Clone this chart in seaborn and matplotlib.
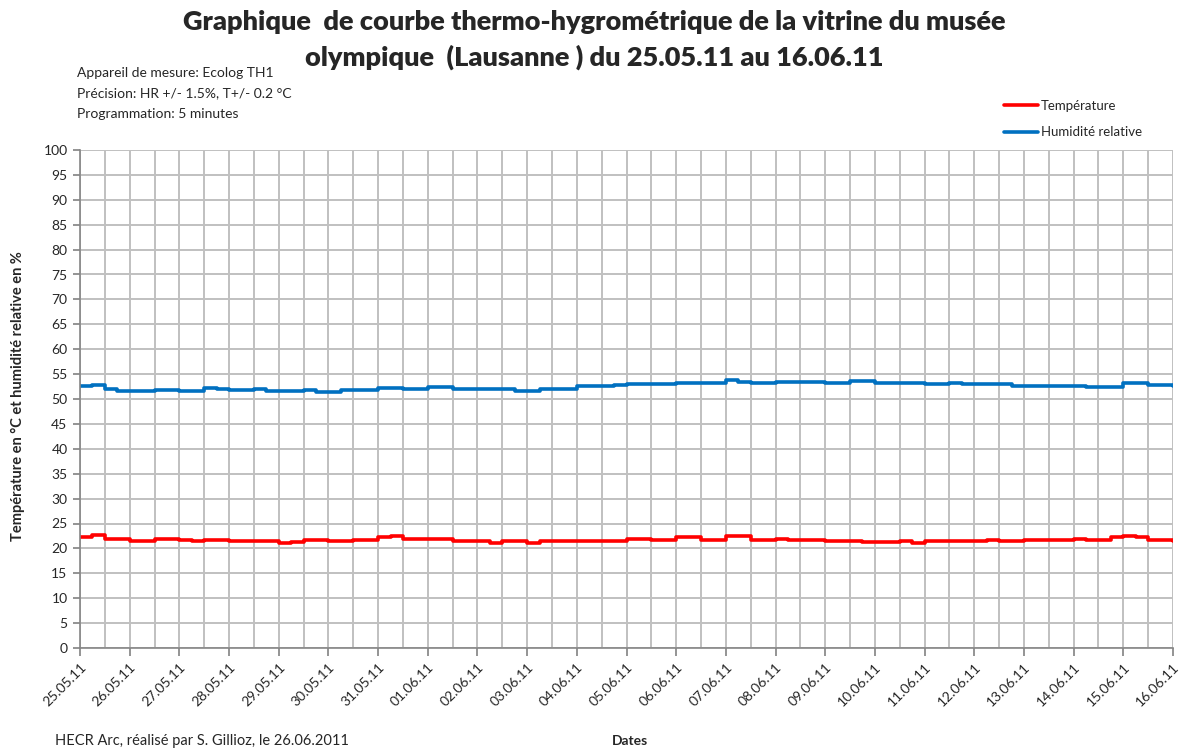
import pandas as pd
import seaborn as sns
import matplotlib.pyplot as plt
import matplotlib.dates as mdates

# Readings every 6 hours
start = "2011-05-25"
n_steps = 89

temperature = [
    22.2, 22.6, 21.9, 21.9, 21.4, 21.4, 21.9, 21.9, 21.6, 21.4, 21.6, 21.6,
    21.4, 21.4, 21.5, 21.5, 21.1, 21.3, 21.6, 21.6, 21.4, 21.4, 21.6, 21.6,
    22.2, 22.4, 21.9, 21.9, 21.9, 21.9, 21.4, 21.4, 21.4, 21.1, 21.4, 21.4,
    21.1, 21.4, 21.4, 21.4, 21.4, 21.4, 21.4, 21.4, 21.9, 21.9, 21.6, 21.6,
    22.2, 22.2, 21.6, 21.6, 22.4, 22.4, 21.6, 21.6, 21.9, 21.6, 21.6, 21.6,
    21.4, 21.4, 21.4, 21.2, 21.2, 21.2, 21.4, 21.1, 21.4, 21.4, 21.4, 21.4,
    21.4, 21.6, 21.4, 21.4, 21.6, 21.6, 21.6, 21.6, 21.9, 21.6, 21.6, 22.2,
    22.4, 22.2, 21.6, 21.6, 21.4,
]

humidity = [
    52.6, 52.9, 52.0, 51.7, 51.6, 51.6, 51.9, 51.9, 51.7, 51.7, 52.3, 52.0,
    51.8, 51.8, 52.0, 51.6, 51.6, 51.6, 51.9, 51.4, 51.4, 51.9, 51.9, 51.9,
    52.3, 52.3, 52.0, 52.0, 52.4, 52.4, 52.0, 52.0, 52.0, 52.0, 52.0, 51.7,
    51.7, 52.1, 52.1, 52.1, 52.6, 52.6, 52.7, 52.8, 53.1, 53.1, 53.1, 53.1,
    53.3, 53.3, 53.3, 53.3, 53.8, 53.5, 53.3, 53.3, 53.5, 53.5, 53.5, 53.5,
    53.3, 53.3, 53.7, 53.7, 53.3, 53.3, 53.3, 53.3, 53.0, 53.0, 53.3, 53.0,
    53.0, 53.0, 53.0, 52.7, 52.7, 52.7, 52.7, 52.7, 52.7, 52.5, 52.4, 52.5,
    53.2, 53.2, 52.8, 52.8, 52.7,
]

series_names = ["Température", "Humidité relative"]

times = pd.date_range(start, periods=n_steps, freq="6h")
df = pd.DataFrame({"Date": times, series_names[0]: temperature, series_names[1]: humidity})
df_long = df.melt(id_vars="Date", var_name="Mesure", value_name="Valeur")

sns.set_theme(style="white")
plt.rcParams["font.family"] = ["Lato", "DejaVu Sans"]

fig = plt.figure(figsize=(11.88, 7.51), dpi=100)
ax = fig.add_axes([80 / 1188, 1 - 648 / 751, 1093 / 1188, 498 / 751])

sns.lineplot(
    data=df_long, x="Date", y="Valeur", hue="Mesure",
    palette=["#ff0000", "#0070c0"], linewidth=2.6,
    drawstyle="steps-post", ax=ax
)

# Axes styling (Excel look)
ax.set_ylim(0, 100)
ax.set_yticks(range(0, 101, 5))
ax.set_xlim(pd.Timestamp("2011-05-25"), pd.Timestamp("2011-06-16"))
ax.xaxis.set_major_locator(mdates.DayLocator())
ax.xaxis.set_minor_locator(mdates.HourLocator(byhour=[12]))
ax.xaxis.set_major_formatter(mdates.DateFormatter("%d.%m.%y"))

ax.grid(True, which="both", color="#c0c0c0", linewidth=1.4)
ax.set_axisbelow(True)
for side in ["top", "right"]:
    ax.spines[side].set_visible(False)
for side in ["left", "bottom"]:
    ax.spines[side].set_color("#868686")
    ax.spines[side].set_linewidth(1.2)

ax.tick_params(axis="y", length=5, color="#868686", labelsize=10, pad=4, left=True)
ax.tick_params(axis="x", which="major", length=6, color="#868686", labelsize=10, bottom=True)
ax.tick_params(axis="x", which="minor", length=0)
plt.setp(ax.get_xticklabels(), rotation=45, ha="right", rotation_mode="anchor")

ax.set_xlabel("")
ax.set_ylabel("")

# Legend top right, no frame
handles, labels = ax.get_legend_handles_labels()
ax.legend(
    handles, labels, loc="upper left", bbox_to_anchor=(992 / 1188, 1 - 88 / 751),
    bbox_transform=fig.transFigure, frameon=False, fontsize=9.5,
    handlelength=2.6, handletextpad=0.2, labelspacing=1.1
)

# Titles and annotations
fig.text(0.5, 1 - 22 / 751, "Graphique  de courbe thermo-hygrométrique de la vitrine du musée",
         ha="center", va="center", fontsize=19.5, fontweight="heavy")
fig.text(0.5, 1 - 57 / 751, "olympique  (Lausanne ) du 25.05.11 au 16.06.11",
         ha="center", va="center", fontsize=19.5, fontweight="heavy")

info = "Appareil de mesure: Ecolog TH1\nPrécision: HR +/- 1.5%, T+/- 0.2 °C\nProgrammation: 5 minutes"
fig.text(77 / 1188, 1 - 67 / 751, info, ha="left", va="top", fontsize=10, linespacing=1.85)

fig.text(18 / 1188, 1 - 396 / 751, "Température en °C et humidité relative en %",
         rotation=90, ha="center", va="center", fontsize=10.5, fontweight="bold")
fig.text(630 / 1188, 1 - 741 / 751, "Dates", ha="center", va="center", fontsize=10, fontweight="bold")
fig.text(55 / 1188, 1 - 741 / 751, "HECR Arc, réalisé par S. Gillioz, le 26.06.2011",
         ha="left", va="center", fontsize=10.5)

fig.savefig("out.png", dpi=100)
